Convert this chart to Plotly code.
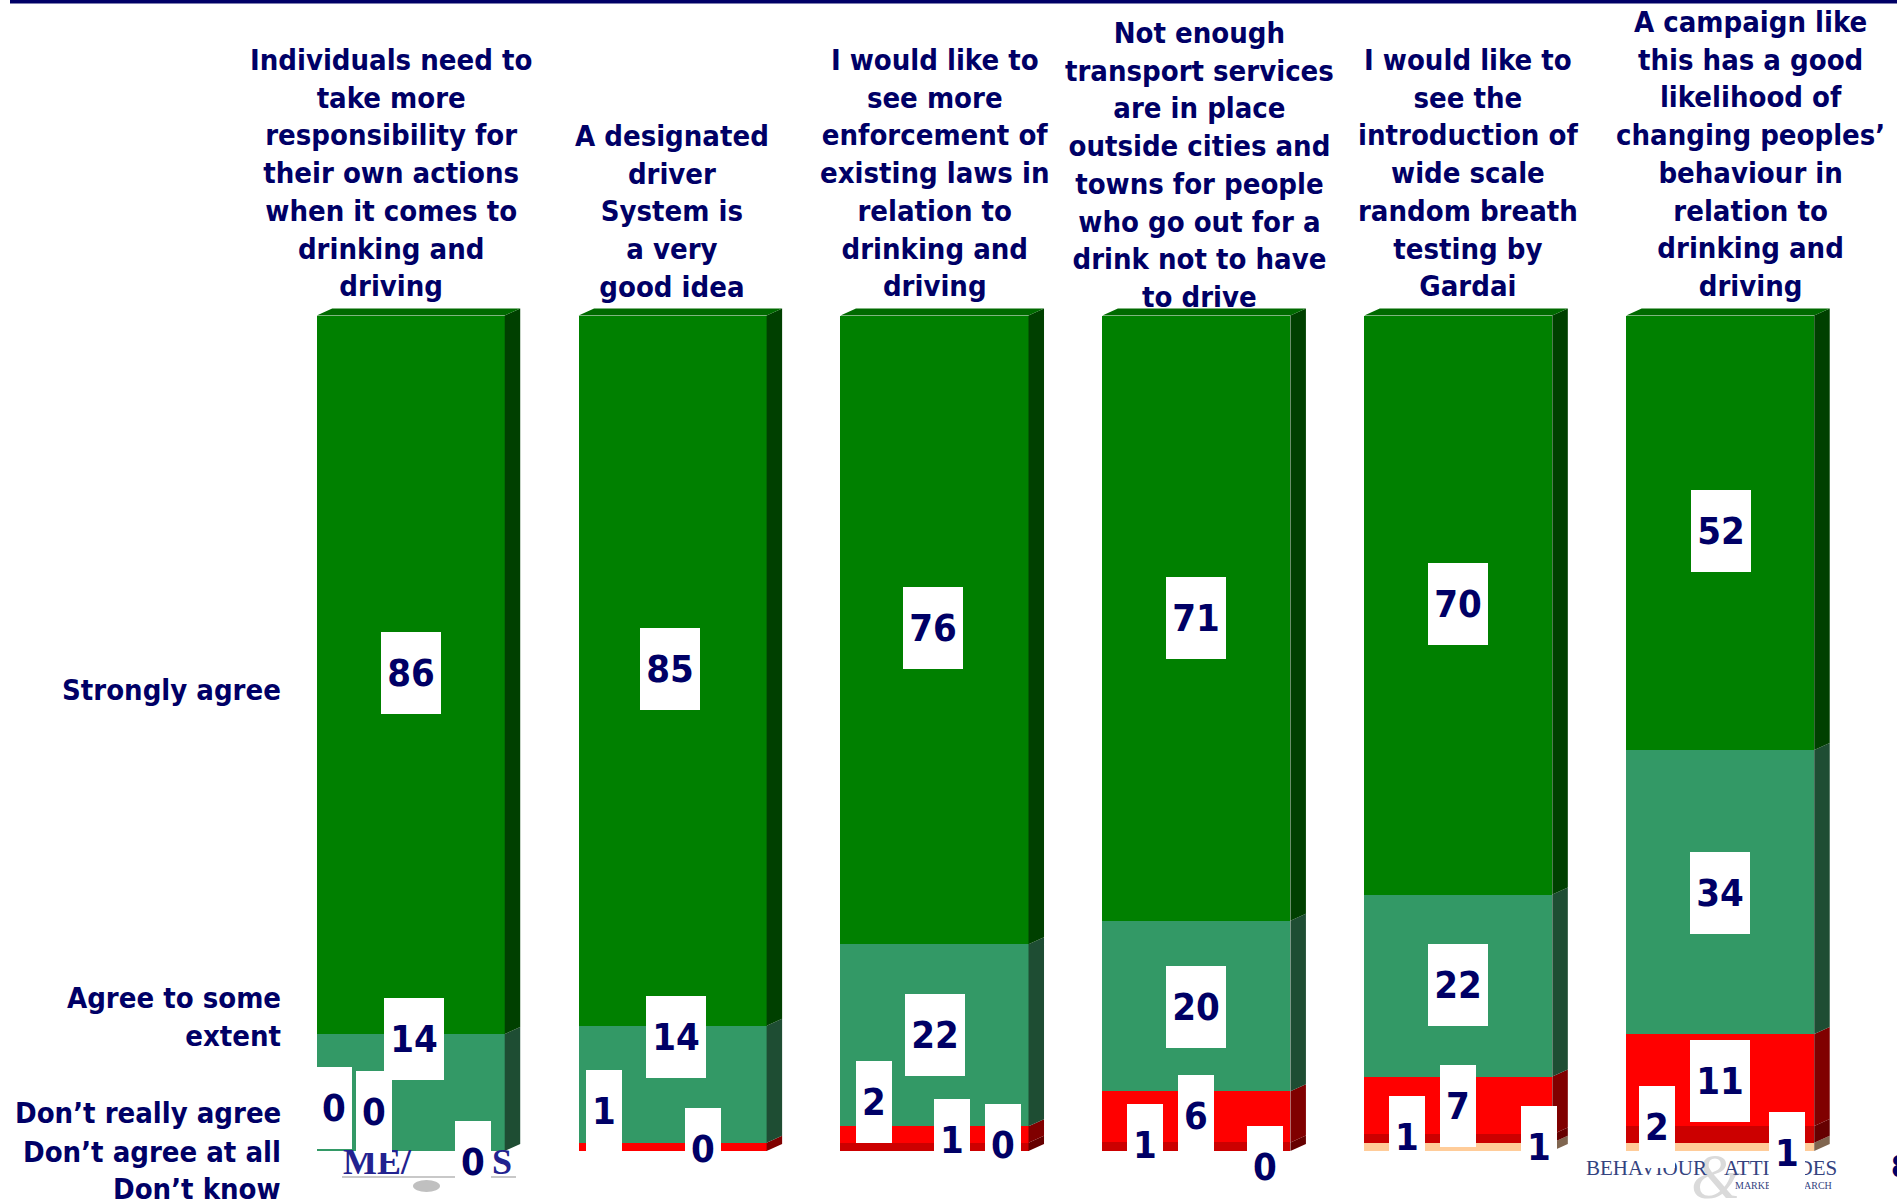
import plotly.graph_objects as go

# ---------------- data ----------------
categories = [
    "Individuals need to<br>take more<br>responsibility for<br>their own actions<br>when it comes to<br>drinking and<br>driving",
    "A designated<br>driver<br>System is<br>a very<br>good idea",
    "I would like to<br>see more<br>enforcement of<br>existing laws in<br>relation to<br>drinking and<br>driving",
    "Not enough<br>transport services<br>are in place<br>outside cities and<br>towns for people<br>who go out for a<br>drink not to have<br>to drive",
    "I would like to<br>see the<br>introduction of<br>wide scale<br>random breath<br>testing by<br>Gardai",
    "A campaign like<br>this has a good<br>likelihood of<br>changing peoples’<br>behaviour in<br>relation to<br>drinking and<br>driving",
]
series_names = ["Strongly agree", "Agree to some<br>extent", "Don’t really agree",
                "Don’t agree at all", "Don’t know"]
strongly_agree = [86, 85, 76, 71, 70, 52]
agree_some_extent = [14, 14, 22, 20, 22, 34]
dont_really_agree = [0, 1, 2, 6, 7, 11]
dont_agree_at_all = [0, 0, 1, 1, 1, 2]
dont_know = [0, None, 0, 0, 1, 1]

# ---------------- style ----------------
W, H = 1897, 1202
X0, XU = 410.7, 261.9      # pixel of first bar centre, pixels per category
Y0, YU = 1151.0, 8.355     # pixel of 0 %, pixels per percent
def xd(p): return (p - X0) / XU
def yd(p): return (Y0 - p) / YU

NAVY = "#000066"
FONT = "DejaVu Sans Condensed, DejaVu Sans, sans-serif"
BAR_W = 0.718
DX = 15.5 / XU
DY = 7.0 / YU

# bottom -> top : (values, front colour, side colour, label offsets px per bar)
stack = [
    (dont_know, "#FFCC99", "#806650",
     [(62, -11), None, (68, 6), (69, -16), (81, 0), (67, -6)]),
    (dont_agree_at_all, "#CC0000", "#660000",
     [(-37, 39), (30, 2), (17, 7), (-51, 2), (-51, 2), (-63, 7)]),
    (dont_really_agree, "#FF0000", "#800000",
     [(-77, 43), (-69, 36), (-61, 32), (0, 1), (0, 0), (0, -1)]),
    (agree_some_extent, "#339966", "#1E4D33",
     [(3, 54), (3, 47), (0, 0), (0, -1), (0, 1), (0, -1)]),
    (strongly_agree, "#008000", "#004000",
     [(0, 2), (-3, 2), (-2, 2), (0, 0), (0, 1), (1, 2)]),
]
TOP_COLOR = "#006A00"

xs = list(range(len(categories)))
fig = go.Figure()

for vals, col, side, _ in stack:
    fig.add_trace(go.Bar(x=xs, y=vals, width=BAR_W,
                         marker=dict(color=col, line=dict(width=0)),
                         hoverinfo="skip", showlegend=False))

totals = [sum((s[0][i] or 0) for s in stack) for i in xs]
bounds = []
for vals, _, _, _ in stack:
    bounds.append([None] * len(xs))
for i in xs:
    acc = 0.0
    for k, (vals, _, _, _) in enumerate(stack):
        v = vals[i]
        if v is None:
            continue
        h = 100.0 * v / totals[i]
        bounds[k][i] = (acc, acc + h)
        acc += h

# 3D side faces
for k, (vals, col, side, _) in enumerate(stack):
    px, py = [], []
    for i in xs:
        b = bounds[k][i]
        if b is None or b[1] - b[0] <= 0:
            continue
        lo, hi = b
        xr = i + BAR_W / 2
        px += [xr, xr + DX, xr + DX, xr, xr, None]
        py += [lo, lo + DY, hi + DY, hi, lo, None]
    if px:
        fig.add_trace(go.Scatter(x=px, y=py, mode="lines", fill="toself",
                                 fillcolor=side, line=dict(width=0, color=side),
                                 hoverinfo="skip", showlegend=False))

# top faces
tx, ty = [], []
for i in xs:
    xl, xr = i - BAR_W / 2, i + BAR_W / 2
    tx += [xl, xl + DX, xr + DX, xr, xl, None]
    ty += [100, 100 + DY, 100 + DY, 100, 100, None]
fig.add_trace(go.Scatter(x=tx, y=ty, mode="lines", fill="toself",
                         fillcolor=TOP_COLOR, line=dict(width=0, color=TOP_COLOR),
                         hoverinfo="skip", showlegend=False))

ann = []
# category labels
cat_xshift = [-20, -1, 0, 3, 10, 30]
cat_bottom = [288, 288, 288, 299, 288, 288]
LINE = 38.3
for i, c in enumerate(categories):
    n = c.count("<br>") + 1
    ann.append(dict(x=i, xref="x", xshift=cat_xshift[i],
                    y=yd(cat_bottom[i] - (n - 1) / 2 * LINE), yref="y",
                    text=c, showarrow=False, xanchor="center", yanchor="middle",
                    align="center",
                    font=dict(family=FONT, size=29, color=NAVY, weight="bold")))

# left series labels
left_y = [690, 1017, 1113, 1152, 1189]
for name, py in zip(series_names, left_y):
    ann.append(dict(x=xd(283), xref="x", y=yd(py), yref="y", text=name,
                    showarrow=False, xanchor="right", yanchor="middle", align="right",
                    font=dict(family=FONT, size=29, color=NAVY, weight="bold")))

# logos (drawn below value labels)
LOGO_BLUE = "#22228F"
ann.append(dict(x=xd(341), xref="x", y=yd(1162), yref="y", text="ME/",
                showarrow=False, xanchor="left", yanchor="middle",
                font=dict(family="Liberation Serif", size=36, color=LOGO_BLUE, weight="bold")))
ann.append(dict(x=xd(490), xref="x", y=yd(1162), yref="y", text="S",
                showarrow=False, xanchor="left", yanchor="middle",
                font=dict(family="Liberation Serif", size=36, color=LOGO_BLUE, weight="bold")))
ann.append(dict(x=xd(1716), xref="x", y=yd(1176), yref="y", text="&",
                showarrow=False, xanchor="center", yanchor="middle",
                font=dict(family="Liberation Serif", size=64, color="#DADADA", style="italic")))
BA_BLUE = "#34437F"
ann.append(dict(x=xd(1584), xref="x", y=yd(1168), yref="y", text="BEHAVIOUR",
                showarrow=False, xanchor="left", yanchor="middle",
                font=dict(family="Liberation Serif", size=21, color=BA_BLUE)))
ann.append(dict(x=xd(1722), xref="x", y=yd(1168), yref="y", text="ATTITUDES",
                showarrow=False, xanchor="left", yanchor="middle",
                font=dict(family="Liberation Serif", size=21, color=BA_BLUE)))
ann.append(dict(x=xd(1733), xref="x", y=yd(1185), yref="y", text="MARKET RESEARCH",
                showarrow=False, xanchor="left", yanchor="middle",
                font=dict(family="Liberation Serif", size=10, color=BA_BLUE)))
ann.append(dict(x=xd(1889), xref="x", y=yd(1166), yref="y", text="8",
                showarrow=False, xanchor="left", yanchor="middle",
                font=dict(family=FONT, size=30, color=NAVY, weight="bold")))

# value labels
for k, (vals, _, _, offs) in enumerate(stack):
    for i in xs:
        v = vals[i]
        if v is None or offs[i] is None:
            continue
        lo, hi = bounds[k][i]
        dxp, dyp = offs[i]
        ann.append(dict(x=i, xref="x", xshift=dxp, y=(lo + hi) / 2, yref="y", yshift=dyp,
                        text=str(v), showarrow=False, xanchor="center", yanchor="middle",
                        align="center", valign="middle",
                        width=36 if len(str(v)) == 1 else 60, height=82,
                        bgcolor="white", borderpad=0, borderwidth=0,
                        font=dict(family=FONT, size=38, color=NAVY, weight="bold")))

shapes = [
    dict(type="rect", xref="paper", yref="paper", x0=10 / W, x1=1, y0=1 - 3.5 / H, y1=1,
         fillcolor=NAVY, line=dict(width=0), layer="above"),
    dict(type="line", xref="x", yref="y", x0=xd(342), x1=xd(516), y0=yd(1177), y1=yd(1177),
         line=dict(color="#C8C8C8", width=2), layer="below"),
    dict(type="circle", xref="x", yref="y", x0=xd(413), x1=xd(440), y0=yd(1192), y1=yd(1180),
         fillcolor="#C0C0C0", line=dict(width=0), layer="below"),
]

fig.update_layout(
    width=W, height=H,
    margin=dict(l=0, r=0, t=0, b=0),
    barmode="stack", barnorm="percent", bargap=0,
    plot_bgcolor="white", paper_bgcolor="white",
    showlegend=False,
    xaxis=dict(visible=False, range=[xd(0), xd(W)], fixedrange=True),
    yaxis=dict(visible=False, range=[yd(H), yd(0)], fixedrange=True),
    annotations=ann, shapes=shapes,
)

fig.write_html("out.html", config={"displayModeBar": False},
               post_script="document.body.style.margin='0';document.body.style.overflow='hidden';")
